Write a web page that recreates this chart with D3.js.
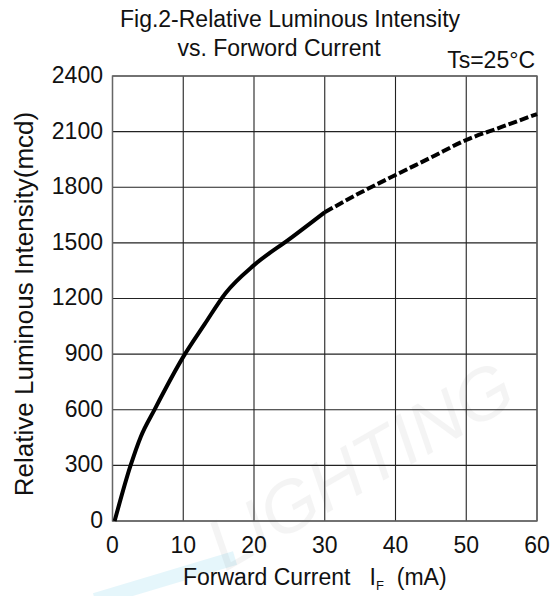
<!DOCTYPE html>
<html>
<head>
<meta charset="utf-8">
<script src="https://cdn.jsdelivr.net/npm/d3@7"></script>
<style>
  html, body { margin: 0; padding: 0; background: #fff; }
  svg text { font-family: Arial, "Liberation Sans", sans-serif; fill: #111; }
</style>
</head>
<body>
<svg id="chart"></svg>
<script>
// Forward current (mA) vs relative luminous intensity (mcd)
const solidCurrent = [0.3, 2.5, 4, 6, 10, 13, 16, 20, 25, 30];
const solidIntensity = [0, 293, 455, 605, 885, 1060, 1230, 1380, 1520, 1665];
const dashCurrent = [30, 35, 40, 45, 50, 55, 60];
const dashIntensity = [1665, 1770, 1866, 1960, 2055, 2125, 2195];

const xTicks = [0, 10, 20, 30, 40, 50, 60];
const yTicks = [0, 300, 600, 900, 1200, 1500, 1800, 2100, 2400];

const width = 560;
const height = 596;
const margin = { top: 76, right: 23, bottom: 75, left: 112.5 };

const svg = d3.select("#chart").attr("width", width).attr("height", height);

// faint watermark behind the grid
svg
  .append("path")
  .attr("d", "M95,600 L235,558")
  .attr("stroke", "#cdeef8")
  .attr("stroke-width", 14)
  .attr("opacity", 0.5);

svg
  .append("text")
  .attr("transform", "translate(225,572) rotate(-30)")
  .attr("font-size", 72)
  .attr("font-style", "italic")
  .style("fill", "#000")
  .attr("opacity", 0.04)
  .text("LIGHTING");

const x = d3
  .scaleLinear()
  .domain([0, 60])
  .range([margin.left, width - margin.right]);

const y = d3
  .scaleLinear()
  .domain([0, 2400])
  .range([height - margin.bottom, margin.top]);

// Grid
svg
  .append("g")
  .selectAll("line")
  .data(xTicks)
  .enter()
  .append("line")
  .attr("x1", (d) => x(d))
  .attr("x2", (d) => x(d))
  .attr("y1", y(0))
  .attr("y2", y(2400))
  .attr("stroke", "#222")
  .attr("stroke-width", 1.1);

svg
  .append("g")
  .selectAll("line")
  .data(yTicks)
  .enter()
  .append("line")
  .attr("x1", x(0))
  .attr("x2", x(60))
  .attr("y1", (d) => y(d))
  .attr("y2", (d) => y(d))
  .attr("stroke", "#222")
  .attr("stroke-width", 1.1);

// Frame
svg
  .append("rect")
  .attr("x", x(0))
  .attr("y", y(2400))
  .attr("width", x(60) - x(0))
  .attr("height", y(0) - y(2400))
  .attr("fill", "none")
  .attr("stroke", "#666")
  .attr("stroke-width", 1.4);

// Tick labels
svg
  .append("g")
  .selectAll("text")
  .data(xTicks)
  .enter()
  .append("text")
  .attr("x", (d) => x(d))
  .attr("y", 553)
  .attr("text-anchor", "middle")
  .attr("font-size", 23)
  .text((d) => d);

svg
  .append("g")
  .selectAll("text")
  .data(yTicks)
  .enter()
  .append("text")
  .attr("x", 103)
  .attr("y", (d) => y(d))
  .attr("dy", "0.3em")
  .attr("text-anchor", "end")
  .attr("font-size", 23)
  .text((d) => d);

// Curves
const line = d3
  .line()
  .x((d) => x(d[0]))
  .y((d) => y(d[1]))
  .curve(d3.curveMonotoneX);

svg
  .append("path")
  .attr("d", line(d3.zip(solidCurrent, solidIntensity)))
  .attr("fill", "none")
  .attr("stroke", "#000")
  .attr("stroke-width", 4)
  .attr("stroke-linejoin", "round");

svg
  .append("path")
  .attr("d", line(d3.zip(dashCurrent, dashIntensity)))
  .attr("fill", "none")
  .attr("stroke", "#000")
  .attr("stroke-width", 4)
  .attr("stroke-dasharray", "9,3");

// Titles
svg
  .append("text")
  .attr("x", 290)
  .attr("y", 27)
  .attr("text-anchor", "middle")
  .attr("font-size", 23)
  .text("Fig.2-Relative Luminous Intensity");

svg
  .append("text")
  .attr("x", 279)
  .attr("y", 56)
  .attr("text-anchor", "middle")
  .attr("font-size", 23)
  .text("vs. Forword Current");

svg
  .append("text")
  .attr("x", 535)
  .attr("y", 68)
  .attr("text-anchor", "end")
  .attr("font-size", 23)
  .text("Ts=25°C");

// Axis titles
const xTitle = svg
  .append("text")
  .attr("x", 183)
  .attr("y", 585)
  .attr("font-size", 23)
  .attr("xml:space", "preserve");
xTitle.append("tspan").text("Forward Current   I");
xTitle.append("tspan").attr("font-size", 13).attr("dy", 5).text("F");
xTitle.append("tspan").attr("dy", -5).text("  (mA)");

svg
  .append("text")
  .attr("transform", "translate(33,304) rotate(-90)")
  .attr("text-anchor", "middle")
  .attr("font-size", 26)
  .text("Relative Luminous Intensity(mcd)");
</script>
</body>
</html>
